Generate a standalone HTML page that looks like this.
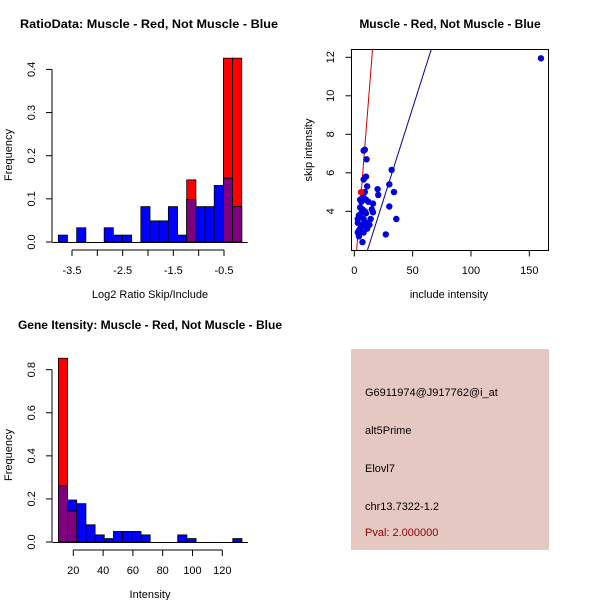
<!DOCTYPE html>
<html><head><meta charset="utf-8"><style>
body{margin:0;background:#fff}
svg{display:block;font-family:"Liberation Sans",sans-serif}
</style></head><body>
<svg id="s" width="600" height="600" xmlns="http://www.w3.org/2000/svg">
<rect width="600" height="600" fill="#fff"/>
<g font-size="12" font-weight="bold" text-anchor="middle">
<text x="149" y="28" textLength="258" lengthAdjust="spacingAndGlyphs">RatioData: Muscle - Red, Not Muscle - Blue</text>
<text x="450" y="28">Muscle - Red, Not Muscle - Blue</text>
<text x="150" y="329">Gene Itensity: Muscle - Red, Not Muscle - Blue</text>
</g>
<g font-size="11" text-anchor="middle">
<text x="150" y="298">Log2 Ratio Skip/Include</text>
<text transform="translate(12,155) rotate(-90)">Frequency</text>
<text x="449" y="298">include intensity</text>
<text transform="translate(312,150) rotate(-90)">skip intensity</text>
<text x="150" y="598">Intensity</text>
<text transform="translate(12,455) rotate(-90)">Frequency</text>
</g>
<g id="p1"></g>
<g id="p2"></g>
<g id="p3"></g>
<g font-size="11">
<rect x="351" y="349" width="198" height="201" fill="#e6c8c2"/>
<text x="365" y="396">G6911974@J917762@i_at</text>
<text x="365" y="434">alt5Prime</text>
<text x="365" y="472">Elovl7</text>
<text x="365" y="510">chr13.7322-1.2</text>
<text x="365" y="536" fill="#8b0000">Pval: 2.000000</text>
</g>
</svg>
<script>
// Ratio histogram data
const ratioBreaksStart = -3.77, ratioBinW = 0.181;
const ratioBlue = [0.016,0,0.033,0,0,0.033,0.016,0.016,0,0.082,0.049,0.049,0.082,0.016,0.098,0.082,0.082,0.131,0.148,0.082];
const ratioRed  = [0,0,0,0,0,0,0,0,0,0,0,0,0,0,0.144,0,0,0,0.426,0.426];
const ratioXTicks = [-3.5,-3,-2.5,-2,-1.5,-1,-0.5];
const ratioXLabels = ["-3.5","","-2.5","","-1.5","","-0.5"];
const ratioYTicks = [0,0.1,0.2,0.3,0.4];
// Intensity histogram data
const intBreaksStart = 10, intBinW = 6.16;
const intBlue = [0.26,0.195,0.178,0.08,0.033,0.016,0.049,0.049,0.049,0.033,0,0,0,0.033,0.016,0,0,0,0,0.016];
const intRed  = [0.853,0.144,0,0,0,0,0,0,0,0,0,0,0,0,0,0,0,0,0,0];
const intXTicks = [20,40,60,80,100,120];
const intYTicks = [0,0.2,0.4,0.6,0.8];
// Scatter data
const incBlue = [160,8,9,10.5,10,8,11,20,20.5,32,30,34,30,36,27,16,15,14,13,16,12,9,7,6,5,4,3,3,4,7,5,6,8,9,10,10,11,8,6,7,5,3,4,9,12,10,8,6,5];
const skipBlue = [11.95,7.15,7.2,6.7,5.8,5.65,5.3,5.15,4.85,6.15,5.4,5,4.25,3.6,2.8,4.4,4.1,3.6,3.3,3.95,4.5,5,4.7,4.5,4.2,3.8,3.4,2.9,2.7,2.4,3.1,3.3,3.6,4,3.9,3.2,3.1,2.9,3.9,4.1,4.6,3.6,3.0,3.4,3.4,4.6,4.7,2.9,3.7];
const incRed = [5.7];
const skipRed = [4.99];
const redFit = [0.47,0.764];
const blueFit = [-0.17,0.1907];
const scXTicks = [0,50,100,150];
const scYTicks = [4,6,8,10,12];

const NS="http://www.w3.org/2000/svg";
function mk(p,t,a){const e=document.createElementNS(NS,t);for(const k in a)e.setAttribute(k,a[k]);p.appendChild(e);return e;}

function hist(g,start,bw,blue,red,xs,ys,xt,xl,yt,yAxisY,tickLabY){
  for(let i=0;i<blue.length;i++){
    const x0=xs(start+i*bw),x1=xs(start+(i+1)*bw);
    const r=red[i],b=blue[i],m=Math.min(r,b);
    if(r>0){const e=mk(g,'rect',{x:x0,y:ys(r),width:x1-x0,height:ys(0)-ys(r),fill:'#ff0000',stroke:'#000','stroke-width':0.8});
      }
    if(b>0){const e=mk(g,'rect',{x:x0,y:ys(b),width:x1-x0,height:ys(0)-ys(b),fill:'#0000ff',stroke:'#000','stroke-width':0.8});
      }
    if(m>0){const e=mk(g,'rect',{x:x0,y:ys(m),width:x1-x0,height:ys(0)-ys(m),fill:'#7f007f',stroke:'#000','stroke-width':0.8});
      }
  }
  const bx0=xs(start),bx1=xs(start+bw*blue.length);
  mk(g,'line',{x1:bx0-6,x2:bx1+6,y1:ys(0)+0.5,y2:ys(0)+0.5,stroke:'#000'});
  mk(g,'line',{x1:xs(xt[0]),x2:xs(xt[xt.length-1]),y1:yAxisY,y2:yAxisY,stroke:'#000'});
  xt.forEach((v,i)=>{mk(g,'line',{x1:xs(v),x2:xs(v),y1:yAxisY,y2:yAxisY+6,stroke:'#000'});
    const t=mk(g,'text',{x:xs(v),y:tickLabY,'font-size':11,'text-anchor':'middle'});t.textContent=xl[i];
    });
  mk(g,'line',{x1:52,x2:52,y1:ys(0),y2:ys(yt[yt.length-1]),stroke:'#000'});
  yt.forEach(v=>{mk(g,'line',{x1:46,x2:52,y1:ys(v),y2:ys(v),stroke:'#000'});
    const t=mk(g,'text',{transform:`translate(35,${ys(v)}) rotate(-90)`,'font-size':11,'text-anchor':'middle'});t.textContent=v.toFixed(1);
    });
}
{const xs=v=>224+(v+0.5)*50.67, ys=v=>242-v*431.5;
 hist(document.getElementById('p1'),ratioBreaksStart,ratioBinW,ratioBlue,ratioRed,xs,ys,ratioXTicks,ratioXLabels,ratioYTicks,250,274);}
{const xs=v=>73.3+(v-20)*1.49, ys=v=>542-v*215.4;
 hist(document.getElementById('p3'),intBreaksStart,intBinW,intBlue,intRed,xs,ys,intXTicks,intXTicks.map(String),intYTicks,550,574);}
{const g=document.getElementById('p2');
 const xs=v=>354.3+v*1.1667, ys=v=>211.3-(v-4)*19.25;
 const L=351.5,R=548.5,T=49.5,B=250.5;
 mk(g,'defs',{}).innerHTML='<clipPath id="cp"><rect x="'+L+'" y="'+T+'" width="'+(R-L)+'" height="'+(B-T)+'"/></clipPath>';
 const c=mk(g,'g',{'clip-path':'url(#cp)'});
 const yLo=4+(211.3-B)/19.25, yHi=4+(211.3-T)/19.25;
 [[redFit,'#cc0000','red-fit-line'],[blueFit,'#00008b','blue-fit-line']].forEach(([f,col,n])=>{
   const xa=(yLo-f[0])/f[1], xb=(yHi-f[0])/f[1];
   const e=mk(c,'line',{x1:xs(xa),y1:ys(yLo),x2:xs(xb),y2:ys(yHi),stroke:col,'stroke-width':1});
   });
 incBlue.forEach((v,i)=>{const e=mk(c,'circle',{cx:xs(v),cy:ys(skipBlue[i]),r:3.2,fill:'#0000e0'});
   });
 incRed.forEach((v,i)=>{const e=mk(c,'circle',{cx:xs(v),cy:ys(skipRed[i]),r:3.2,fill:'#ff0000'});
   });
 mk(g,'rect',{x:L,y:T,width:R-L,height:B-T,fill:'none',stroke:'#000'});
 scXTicks.forEach(v=>{mk(g,'line',{x1:xs(v),x2:xs(v),y1:B,y2:B+6,stroke:'#000'});
   const t=mk(g,'text',{x:xs(v),y:274,'font-size':11,'text-anchor':'middle'});t.textContent=v;
   });
 scYTicks.forEach(v=>{mk(g,'line',{x1:L-6,x2:L,y1:ys(v),y2:ys(v),stroke:'#000'});
   const t=mk(g,'text',{transform:`translate(334,${ys(v)}) rotate(-90)`,'font-size':11,'text-anchor':'middle'});t.textContent=v;
   });
}
</script>
</body></html>
